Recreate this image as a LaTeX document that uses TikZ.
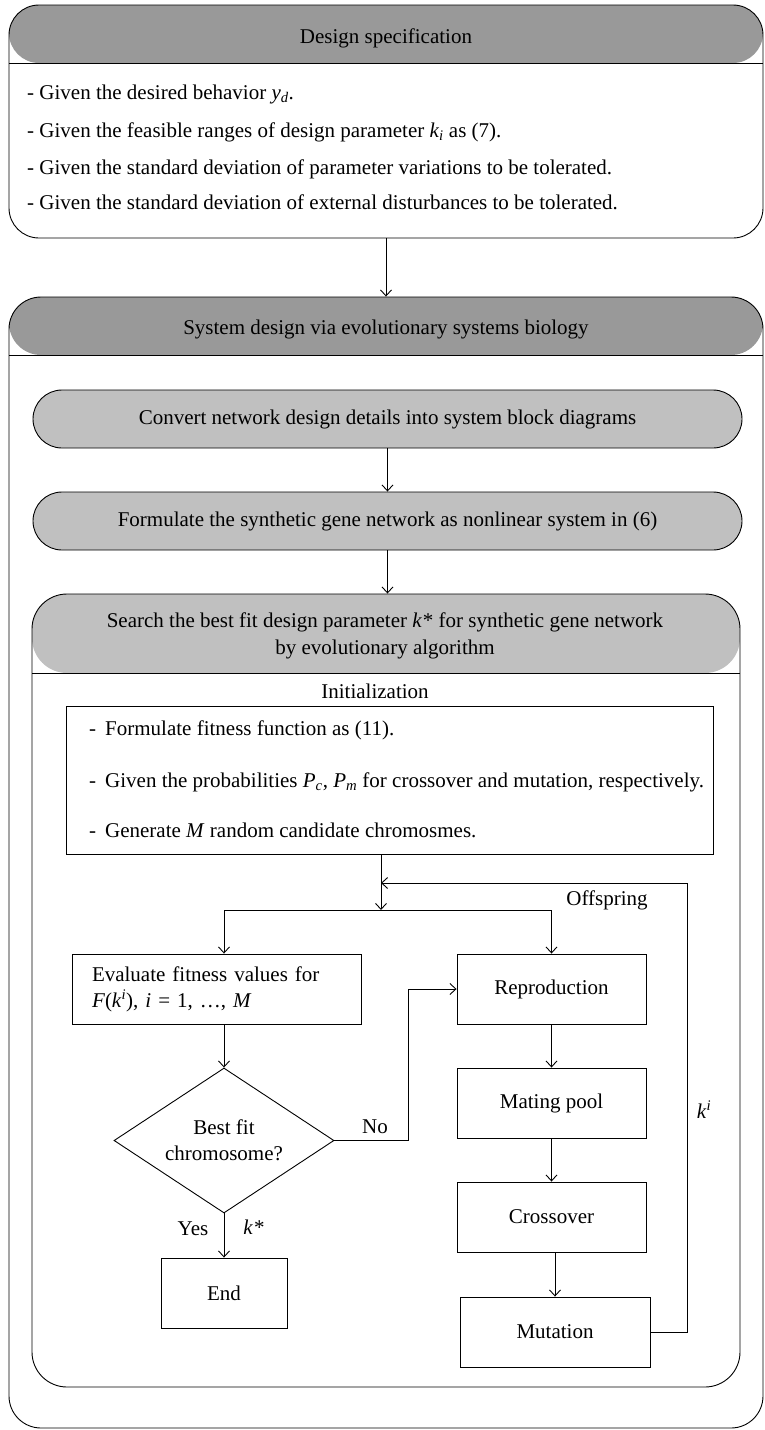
\documentclass[tikz,border=0pt]{standalone}
\usepackage{fontspec}
\setmainfont{Liberation Serif}
\usetikzlibrary{arrows.meta,shapes.geometric}
\definecolor{hdrdark}{RGB}{153,153,153}
\definecolor{hdrlight}{RGB}{192,192,192}
\newcommand{\mv}[1]{\textit{#1}}
\begin{document}
\begin{tikzpicture}[x=1pt,y=-1pt,
  every node/.style={font=\fontsize{21}{26}\selectfont},
  arr/.style={line width=0.9pt,-{Straight Barb[length=6pt,width=11pt]}},
  conn/.style={line width=0.9pt},
  container/.style={draw,line width=0.9pt,inner sep=0pt,rectangle},
  hdr/.style n args={2}{path picture={
      \fill[#1] (path picture bounding box.north west) rectangle ([yshift=-#2]path picture bounding box.north east);
      \draw[line width=0.9pt] ([yshift=-#2]path picture bounding box.north west) -- ([yshift=-#2]path picture bounding box.north east);}},
  pill/.style={draw,line width=0.9pt,fill=hdrlight,rounded corners=29pt,minimum width=709pt,minimum height=58pt,inner sep=0pt},
  flowbox/.style={draw,line width=0.9pt,minimum height=70pt,inner sep=0pt},
  lbl/.style={inner sep=0pt},
]
\useasboundingbox (0,0) rectangle (765,1430);

% top box
\node[container, rounded corners=30pt, minimum width=754pt, minimum height=233pt, hdr={hdrdark}{58pt}] (spec) at (386,121.5) {};
\node[lbl, anchor=base] (spech) at (386,43) {Design specification};
\node[lbl, anchor=base west] (s1) at (27,99) {- Given the desired behavior \mv{y}\textsubscript{\mv{d}}.};
\node[lbl, anchor=base west] (s2) at (27,137) {- Given the feasible ranges of design parameter \mv{k}\textsubscript{\mv{i}} as (7).};
\node[lbl, anchor=base west] (s3) at (27,174) {- Given the standard deviation of parameter variations to be tolerated.};
\node[lbl, anchor=base west] (s4) at (27,209) {- Given the standard deviation of external disturbances to be tolerated.};

% system design box
\node[container, rounded corners=32pt, minimum width=754pt, minimum height=1131pt, hdr={hdrdark}{58pt}] (sysd) at (386,862.5) {};
\node[lbl, anchor=base] (sysdh) at (386,334) {System design via evolutionary systems biology};

\node[pill] (conv) at (387.5,419) {Convert network design details into system block diagrams};
\node[pill] (form) at (387.5,521) {Formulate the synthetic gene network as nonlinear system in (6)};

% search box
\node[container, rounded corners=35pt, minimum width=708pt, minimum height=793pt, hdr={hdrlight}{79pt}] (search) at (386,990.5) {};
\node[lbl, anchor=base] (sh1) at (385,627) {Search the best fit design parameter \mv{k}\kern1pt* for synthetic gene network};
\node[lbl, anchor=base] (sh2) at (385,654) {by evolutionary algorithm};

\node[lbl, anchor=base] (initl) at (375,698) {Initialization};
\node[flowbox, minimum width=647pt, minimum height=148pt] (init) at (389.5,780) {};
\node[lbl, anchor=base west] (i1) at (89,735) {\makebox[16pt][l]{-}Formulate fitness function as (11).};
\node[lbl, anchor=base west] (i2) at (89,787) {\makebox[16pt][l]{-}Given the probabilities \mv{P}\textsubscript{\mv{c}}, \mv{P}\textsubscript{\mv{m}} for crossover and mutation, respectively.};
\node[lbl, anchor=base west] (i3) at (89,837) {\makebox[16pt][l]{-}Generate \mv{M} random candidate chromosmes.};

% flow
\node[flowbox, minimum width=289pt, align=left, text width=249pt, inner xsep=20pt] (eval) at (216.5,989) {Evaluate fitness values for\\\mv{F}(\mv{k}\textsuperscript{\mv{i}}), \mv{i} = 1, \ldots, \mv{M}};
\node[draw, diamond, aspect=1.5, line width=0.9pt, minimum width=220pt, minimum height=145pt, inner sep=0pt, align=center] (dec) at (224,1140.5) {Best fit\\chromosome?};
\node[flowbox, minimum width=126pt] (end) at (224,1293) {End};
\node[flowbox, minimum width=189pt] (repro) at (551.5,989) {Reproduction};
\node[flowbox, minimum width=189pt] (mating) at (551.5,1103) {Mating pool};
\node[flowbox, minimum width=189pt] (cross) at (551.5,1217) {Crossover};
\node[flowbox, minimum width=190pt] (mut) at (555,1332) {Mutation};

\coordinate (j) at (381,910);
\coordinate (nox) at (408,1141);
\coordinate (fb) at (687,883);

% connectors
\draw[arr] (spec.south) -- (sysd.north);
\draw[arr] (conv.south) -- (form.north);
\draw[arr] (form.south) -- (search.north -| form.south);
\draw[arr] (init.south -| j) -- (j);
\draw[arr] (j) -| (eval.north -| dec);
\draw[arr] (j) -| (repro.north);
\draw[arr] (eval.south -| dec) -- (dec.north);
\draw[arr] (dec.east) -- (dec.east -| nox) |- (repro.west);
\draw[arr] (dec.south) -- (end.north);
\draw[arr] (repro.south) -- (mating.north);
\draw[arr] (mating.south) -- (cross.north);
\draw[arr] (mut.north |- cross.south) -- (mut.north);
\draw[arr] (mut.east) -| (fb) -- (fb -| j);

% labels
\node[lbl, anchor=base] (offl) at (607,905) {Offspring};
\node[lbl, anchor=base] (nol) at (375,1133) {No};
\node[lbl, anchor=base] (yesl) at (193,1235) {Yes};
\node[lbl, anchor=base] (kstar) at (254,1234) {\mv{k}\kern1pt*};
\node[lbl, anchor=base] (kil) at (704,1118) {\mv{k}\textsuperscript{\mv{i}}};
\end{tikzpicture}
\end{document}
